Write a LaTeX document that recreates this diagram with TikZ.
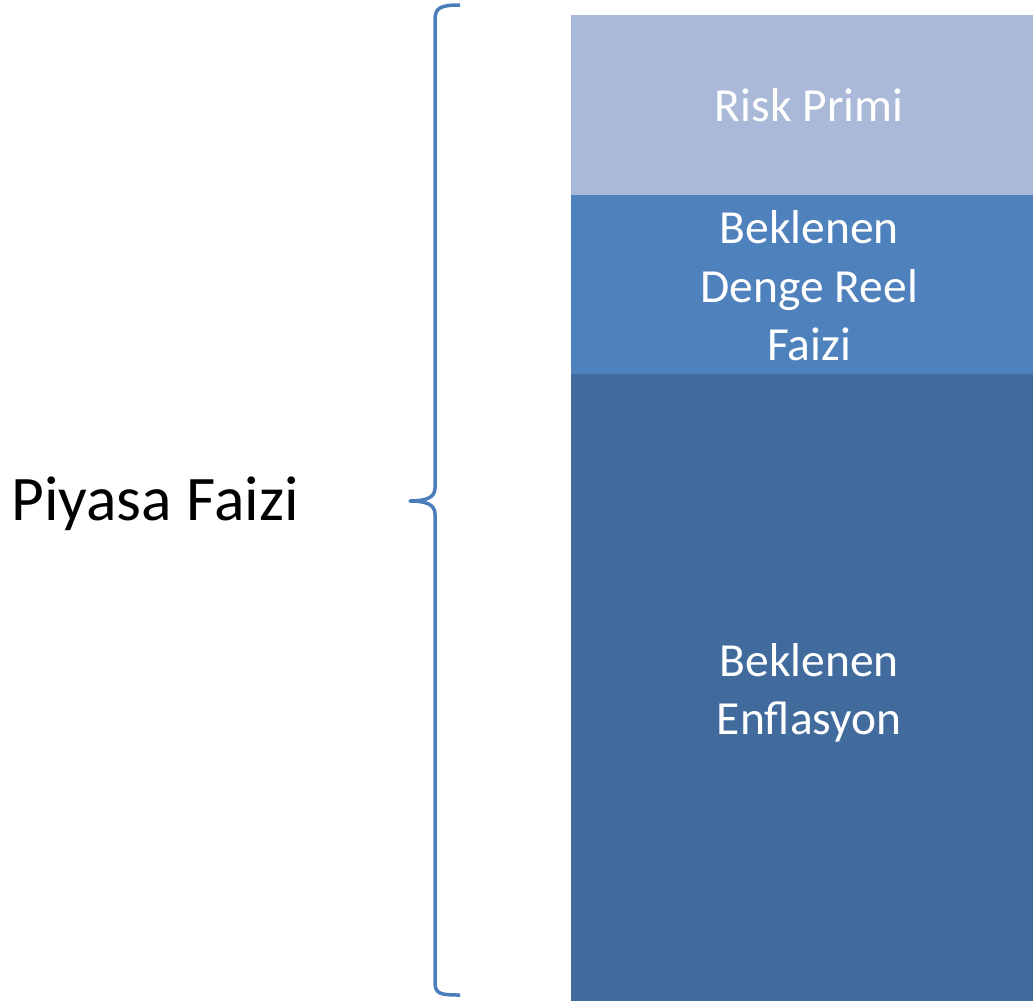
\documentclass[tikz,border=0pt]{standalone}
\usepackage{fontspec}
\setmainfont{Carlito}
\definecolor{riskc}{HTML}{AAB9D7}
\definecolor{dengec}{HTML}{4F81BD}
\definecolor{enfc}{HTML}{416B9D}
\definecolor{bracec}{HTML}{4A7EBB}
\begin{document}
\begin{tikzpicture}[x=1pt,y=-1pt,
  block/.style={draw=none,minimum width=462pt,inner sep=0pt,anchor=north west},
  blocktext/.style={text=white,align=center,inner sep=0pt,font=\fontsize{47.5}{58.5}\selectfont},
  bracestyle/.style={draw=bracec,line width=3.5pt,line join=round}]
\useasboundingbox (0,0) rectangle (1033,1001);
\fill[white] (0,0) rectangle (1033,1001);
\node[block,fill=riskc,minimum height=180pt] (risk) at (571,15) {};
\node[block,fill=dengec,minimum height=179pt] (denge) at (571,195) {};
\node[block,fill=enfc,minimum height=627pt] (enf) at (571,374) {};
\node[blocktext] (risktxt) at ([xshift=7pt]risk.center) {Risk Primi};
\node[blocktext] (dengetxt) at ([xshift=7pt,yshift=-1pt]denge.center) {Beklenen\\Denge Reel\\Faizi};
\node[blocktext] (enftxt) at ([xshift=7pt,yshift=-5pt]enf.center) {Beklenen\\Enflasyon};
\node[font=\fontsize{63.5}{76}\selectfont,inner sep=0pt] (piyasa) at (155,504) {Piyasa Faizi};
\coordinate (btop) at (460,5);
\coordinate (btip) at (410,501);
\coordinate (bbot) at (460,995);
\draw[bracestyle] (btop) .. controls (440,5) and (435,8) .. (435,20)
  -- (435,488) .. controls (435,498) and (425,501) .. (btip)
  .. controls (425,501) and (435,504) .. (435,514)
  -- (435,982) .. controls (435,994) and (440,995) .. (bbot);
\end{tikzpicture}
\end{document}
